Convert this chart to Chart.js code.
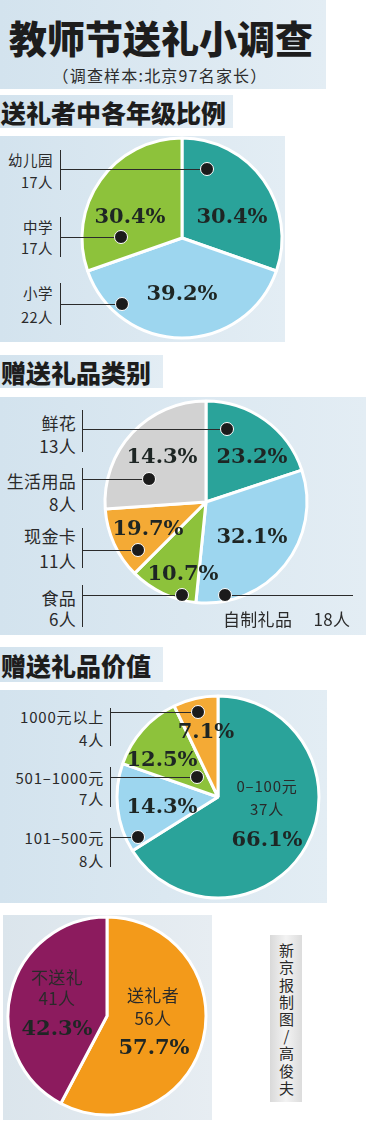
<!DOCTYPE html>
<html lang="zh">
<head>
<meta charset="UTF-8">
<title>教师节送礼小调查</title>
<script src="https://cdn.jsdelivr.net/npm/chart.js"></script>
<style>
    * {
        margin: 0;
        padding: 0;
    }

    body {
        width: 366px;
        height: 1134px;
        background: #fff;
        overflow: hidden;
        font-family: "Noto Sans CJK SC", sans-serif;
        color: #2a2a2a;
    }

    #stage {
        position: relative;
        width: 366px;
        height: 1134px;
    }

    .panel, canvas, .txt, .ln, .dot {
        position: absolute;
    }

    .bluebox {
        background: linear-gradient(90deg, #d3e3ee 0%, #e3edf4 100%);
    }

    .txt {
        white-space: nowrap;
        line-height: 1;
    }

    .title {
        font-size: 38px;
        font-weight: 900;
        color: #1d1d1d;
    }

    .sub {
        font-size: 16px;
        letter-spacing: 1.2px;
        color: #2c2c2c;
    }

    .head {
        font-size: 25px;
        font-weight: 900;
        color: #1d1d1d;
    }

    .pct {
        font-family: "DejaVu Serif", serif;
        font-weight: bold;
        font-size: 21px;
        color: #1e2624;
    }

    .s14 { font-size: 14.5px; letter-spacing: 0.5px; }
    .s15 { font-size: 15px; letter-spacing: 0.8px; }
    .s17 { font-size: 17px; letter-spacing: 0.3px; }

    .ln {
        background: #2b2b2b;
    }

    .dot {
        width: 12px;
        height: 12px;
        border-radius: 50%;
        background: #1b1b1b;
        border: 1.5px solid #fff;
        transform: translate(-50%, -50%);
    }

    #credit {
        position: absolute;
        left: 270px;
        top: 935px;
        width: 32px;
        height: 167px;
        background: linear-gradient(90deg, #d9d9d9, #f3f3f3 50%, #dcdcdc);
        writing-mode: vertical-rl;
        text-orientation: upright;
        font-size: 15px;
        line-height: 32px;
        letter-spacing: 2.2px;
        text-align: center;
        color: #2a2a2a;
        padding-top: 3px;
        box-sizing: border-box;
    }
</style>
</head>
<body>
<div id="stage">
    <div class="panel bluebox" style="left:0;top:0;width:326px;height:89px"></div>
    <div class="panel bluebox" style="left:0;top:95px;width:233px;height:33px"></div>
    <div class="panel bluebox" style="left:0;top:136px;width:285px;height:206px"></div>
    <div class="panel bluebox" style="left:0;top:355px;width:163px;height:33px"></div>
    <div class="panel bluebox" style="left:0;top:397px;width:366px;height:238px"></div>
    <div class="panel bluebox" style="left:0;top:647px;width:163px;height:35px"></div>
    <div class="panel bluebox" style="left:0;top:690px;width:327px;height:213px"></div>
    <div class="panel" style="left:3px;top:915px;width:209px;height:205px;background:linear-gradient(90deg,#dbe5ec,#e7edf2)"></div>

    <canvas id="gradeChart"></canvas>
    <canvas id="typeChart"></canvas>
    <canvas id="valueChart"></canvas>
    <canvas id="giveChart"></canvas>

    <div id="credit">新京报制图/高俊夫</div>
</div>

<script>
    // 送礼者中各年级比例 (clockwise from 12 o'clock)
    const gradeNames = ['幼儿园', '小学', '中学'];
    const gradeCounts = [17, 22, 17];
    const gradePct = ['30.4%', '39.2%', '30.4%'];

    // 赠送礼品类别
    const typeNames = ['鲜花', '自制礼品', '食品', '现金卡', '生活用品'];
    const typeCounts = [13, 18, 6, 11, 8];
    const typePct = ['23.2%', '32.1%', '10.7%', '19.7%', '14.3%'];
    // the printed slices don't follow the counts, so use the shares as drawn
    const typeSlice = [19.9, 31.7, 10.9, 11.4, 26.1];

    // 赠送礼品价值
    const valueNames = ['0–100元', '101–500元', '501–1000元', '1000元以上'];
    const valueCounts = [37, 8, 7, 4];
    const valuePct = ['66.1%', '14.3%', '12.5%', '7.1%'];

    // 送礼 / 不送礼
    const giveNames = ['送礼者', '不送礼'];
    const giveCounts = [56, 41];
    const givePct = ['57.7%', '42.3%'];

    const TEAL = '#2aa39a', SKY = '#9dd6ef', LIME = '#8dc23b', GREY = '#d2d2d2',
        AMBER = '#f4aa35', PLUM = '#8c1b5e', ORANGE = '#f39a1a';

    const stage = document.getElementById('stage');

    function put(str, x, y, cls, align) {
        const d = document.createElement('div');
        d.className = 'txt ' + cls;
        d.textContent = str;
        d.style.left = x + 'px';
        d.style.top = y + 'px';
        let tx = '-50%';
        if (align === 'right') tx = '-100%';
        if (align === 'left') tx = '0';
        d.style.transform = 'translate(' + tx + ',-50%)';
        stage.appendChild(d);
    }

    function line(x1, y1, x2, y2) {
        const d = document.createElement('div');
        d.className = 'ln';
        d.style.left = Math.min(x1, x2) + 'px';
        d.style.top = Math.min(y1, y2) + 'px';
        d.style.width = Math.max(1, Math.abs(x2 - x1)) + 'px';
        d.style.height = Math.max(1, Math.abs(y2 - y1)) + 'px';
        stage.appendChild(d);
    }

    function dot(x, y) {
        const d = document.createElement('div');
        d.className = 'dot';
        d.style.left = x + 'px';
        d.style.top = y + 'px';
        stage.appendChild(d);
    }

    function pie(id, cx, cy, r, labels, values, colors) {
        const size = 2 * r + 10;
        const cv = document.getElementById(id);
        cv.width = size;
        cv.height = size;
        cv.style.left = (cx - size / 2) + 'px';
        cv.style.top = (cy - size / 2) + 'px';
        return new Chart(cv, {
            type: 'pie',
            data: {
                labels: labels,
                datasets: [{
                    data: values,
                    backgroundColor: colors,
                    borderColor: '#fff',
                    borderWidth: 3
                }]
            },
            options: {
                responsive: false,
                animation: false,
                radius: r,
                layout: { padding: 0 },
                plugins: {
                    legend: { display: false },
                    tooltip: { enabled: false }
                }
            }
        });
    }

    // callout: name + count right-aligned against a short bar, line out to a dot
    function callout(name, count, rightX, barX, nameY, countY, barTop, barBottom, lineY, dotX, cls) {
        put(name, rightX, nameY, cls, 'right');
        put(count, rightX, countY, cls, 'right');
        line(barX, barTop, barX + 1, barBottom);
        line(barX, lineY, dotX, lineY + 1);
        dot(dotX, lineY);
    }

    pie('gradeChart', 182, 238, 100, gradeNames, gradeCounts, [TEAL, SKY, LIME]);
    pie('typeChart', 206, 502, 101, typeNames, typeSlice, [TEAL, SKY, LIME, AMBER, GREY]);
    pie('valueChart', 218, 797, 101, valueNames, valueCounts, [TEAL, SKY, LIME, AMBER]);
    pie('giveChart', 107, 1016, 99, giveNames, giveCounts, [ORANGE, PLUM]);

    // headings
    put('教师节送礼小调查', 161, 37, 'title');
    put('（调查样本:北京97名家长）', 160, 75, 'sub');
    put('送礼者中各年级比例', 1, 112, 'head', 'left');
    put('赠送礼品类别', 1, 372, 'head', 'left');
    put('赠送礼品价值', 1, 665, 'head', 'left');

    // chart 1
    callout(gradeNames[0], gradeCounts[0] + '人', 53, 60, 160, 182, 150, 190, 169, 207, 's14');
    callout(gradeNames[2], gradeCounts[2] + '人', 53, 60, 227, 248, 217, 257, 237, 121, 's14');
    callout(gradeNames[1], gradeCounts[1] + '人', 53, 60, 293, 317, 283, 325, 304, 122, 's14');
    put(gradePct[0], 232, 215, 'pct');
    put(gradePct[1], 182, 292, 'pct');
    put(gradePct[2], 130, 215, 'pct');

    // chart 2
    callout(typeNames[0], typeCounts[0] + '人', 76, 82, 422, 445, 410, 452, 429, 227, 's17');
    callout(typeNames[4], typeCounts[4] + '人', 76, 82, 480, 503, 468, 510, 479, 149, 's17');
    callout(typeNames[3], typeCounts[3] + '人', 76, 82, 535, 560, 528, 568, 550, 138, 's17');
    callout(typeNames[2], typeCounts[2] + '人', 76, 82, 597, 618, 585, 627, 595, 182, 's17');
    line(225, 595, 353, 596);
    dot(225, 595);
    put(typeNames[1] + '\u2003 ' + typeCounts[1] + '人', 223, 618, 's17', 'left');
    put(typePct[0], 252, 455, 'pct');
    put(typePct[1], 252, 535, 'pct');
    put(typePct[2], 183, 572, 'pct');
    put(typePct[3], 148, 527, 'pct');
    put(typePct[4], 162, 455, 'pct');

    // chart 3
    callout(valueNames[3], valueCounts[3] + '人', 104, 110, 716, 739, 708, 746, 712, 198, 's15');
    callout(valueNames[2], valueCounts[2] + '人', 104, 110, 777, 798, 767, 807, 777, 197, 's15');
    callout(valueNames[1], valueCounts[1] + '人', 104, 110, 837, 860, 828, 867, 837, 138, 's15');
    put(valueNames[0], 267, 785, 's15');
    put(valueCounts[0] + '人', 267, 808, 's15');
    put(valuePct[0], 267, 838, 'pct');
    put(valuePct[1], 162, 805, 'pct');
    put(valuePct[2], 162, 758, 'pct');
    put(valuePct[3], 206, 730, 'pct');

    // chart 4
    put(giveNames[0], 153, 994, 's17');
    put(giveCounts[0] + '人', 153, 1017, 's17');
    put(givePct[0], 154, 1046, 'pct');
    put(giveNames[1], 57, 976, 's17');
    put(giveCounts[1] + '人', 57, 997, 's17');
    put(givePct[1], 57, 1027, 'pct');
</script>
</body>
</html>
